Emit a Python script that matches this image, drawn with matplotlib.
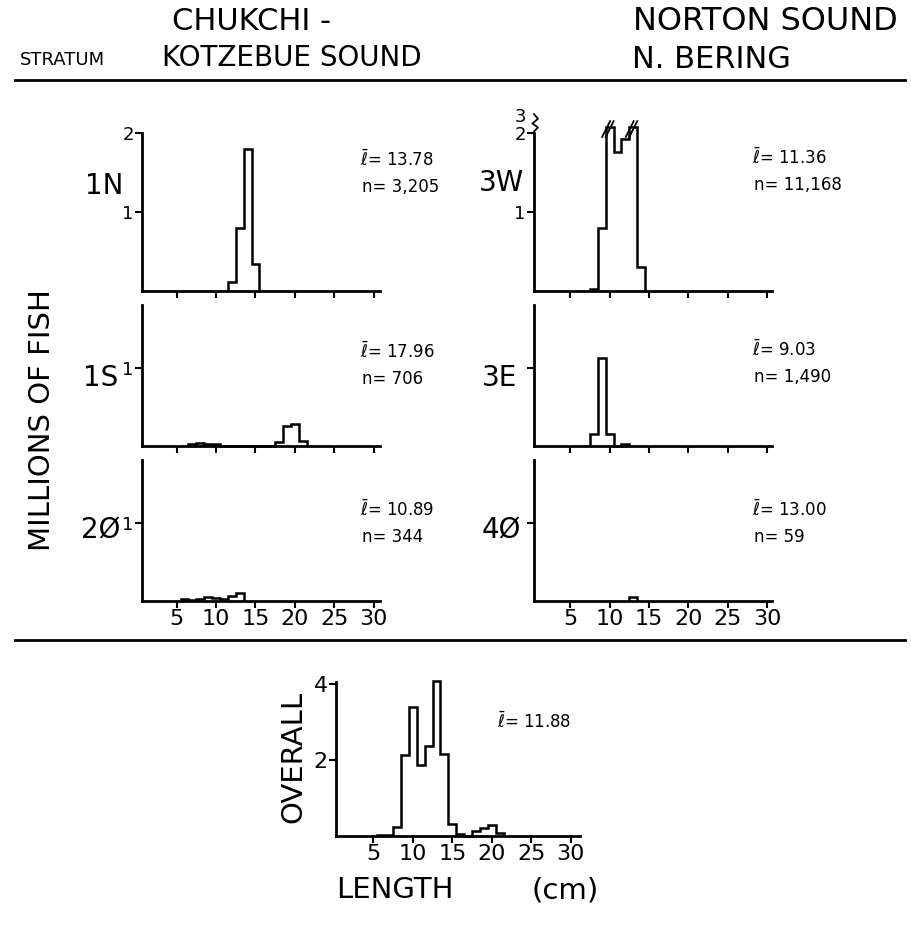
import numpy as np
import matplotlib.pyplot as plt
from matplotlib.lines import Line2D

# length bins (cm, bin centres) and abundance (millions of fish) per stratum
bins_1N = [12, 13, 14, 15]
fish_1N = [0.12, 0.80, 1.80, 0.34]

bins_1S = [7, 8, 9, 10, 11, 12, 13, 14, 15, 16, 17, 18, 19, 20, 21]
fish_1S = [0.02, 0.04, 0.03, 0.02, 0, 0, 0, 0, 0, 0, 0, 0.05, 0.25, 0.28, 0.06]

bins_20 = [6, 7, 8, 9, 10, 11, 12, 13]
fish_20 = [0.02, 0.01, 0.02, 0.05, 0.04, 0.02, 0.06, 0.10]

bins_3W = [8, 9, 10, 11, 12, 13, 14]
fish_3W = [0.03, 0.80, 3.20, 1.76, 1.92, 3.00, 0.30]

bins_3E = [8, 9, 10, 11, 12]
fish_3E = [0.15, 1.12, 0.15, 0.0, 0.02]

bins_40 = [13]
fish_40 = [0.05]

bins_all = [6, 7, 8, 9, 10, 11, 12, 13, 14, 15, 16, 17, 18, 19, 20, 21]
fish_all = [0.02, 0.03, 0.24, 2.14, 3.40, 1.86, 2.37, 4.07, 2.16, 0.32, 0.06, 0.0,
            0.12, 0.21, 0.28, 0.09]

strata = ['1N', '1S', '2Ø', '3W', '3E', '4Ø']
means = ['13.78', '17.96', '10.89', '11.36', '9.03', '13.00']
counts = ['3,205', '706', '344', '11,168', '1,490', '59']
xticks = [5, 10, 15, 20, 25, 30]

W, H = 912, 932
fig = plt.figure(figsize=(W / 100, H / 100), dpi=100)
plt.rcParams['font.family'] = 'DejaVu Sans'


def fx(px):
    return px / W


def fy(py):
    return 1 - py / H


def panel(left, top, right, bottom, xlim, ylim):
    ax = fig.add_axes([fx(left), fy(bottom), fx(right) - fx(left), (bottom - top) / H])
    ax.set_xlim(*xlim)
    ax.set_ylim(*ylim)
    for s in ['top', 'right']:
        ax.spines[s].set_visible(False)
    for s in ['left', 'bottom']:
        ax.spines[s].set_linewidth(2)
    ax.tick_params(direction='out', length=5, width=1.5, labelsize=13, pad=1)
    ax.set_xticks(xticks)
    ax.set_xticklabels([])
    ax.set_facecolor('none')
    return ax


def hist(ax, bins, vals, cap=None):
    edges = np.arange(bins[0] - 0.5, bins[-1] + 1.0, 1.0)
    v = np.array(vals, dtype=float)
    if cap is not None:
        v = np.minimum(v, cap)
    ax.stairs(v, edges, color='black', lw=1.8, baseline=0, clip_on=False)


left_x = (142, 380)
right_x = (534, 772)
rows = [(133, 291, 2.0), (305, 446, 1.8), (460, 601, 1.8)]

data_left = [(bins_1N, fish_1N), (bins_1S, fish_1S), (bins_20, fish_20)]
data_right = [(bins_3W, fish_3W), (bins_3E, fish_3E), (bins_40, fish_40)]

for i, (top, bot, ymax) in enumerate(rows):
    # left column
    ax = panel(left_x[0], top, left_x[1], bot, (0.6, 30.8), (0, ymax))
    hist(ax, *data_left[i])
    if i == 0:
        ax.set_yticks([1, 2])
        ax.set_yticklabels(['1', '2'])
    else:
        ax.set_yticks([1])
        ax.set_yticklabels(['1'])
    if i == 2:
        ax.set_xticklabels([str(t) for t in xticks], fontsize=16)

    # right column
    ax = panel(right_x[0], top, right_x[1], bot, (0.4, 30.6), (0, 2.0 if i == 0 else ymax))
    if i == 0:
        hist(ax, bins_3W, fish_3W, cap=2.08)
        ax.set_yticks([1, 2])
        ax.set_yticklabels(['1', '2'])
        # break marks on the clipped bars
        for b, v in zip(bins_3W, fish_3W):
            if v > 2.08:
                for d in (-0.25, 0.2):
                    ax.add_line(Line2D([b - 0.7 + d, b + 0.3 + d], [1.95, 2.15],
                                       color='black', lw=1.3, clip_on=False))
        ax.text(-0.6, 2.2, '3', ha='right', va='center', fontsize=13)
        ax.add_line(Line2D([0.4, 0.9, 0.2, 0.9, 0.4], [2.02, 2.07, 2.12, 2.18, 2.24],
                           color='black', lw=1.3, clip_on=False))
    else:
        hist(ax, *data_right[i])
        ax.set_yticks([1])
        ax.set_yticklabels([''])
    if i == 2:
        ax.set_xticklabels([str(t) for t in xticks], fontsize=16)

# overall panel
ax = panel(336, 682, 580, 836, (0.25, 31.2), (0, 4.05))
hist(ax, bins_all, fish_all)
ax.set_yticks([2, 4])
ax.set_yticklabels(['2', '4'], fontsize=16)
ax.set_xticklabels([str(t) for t in xticks], fontsize=16)

# stratum labels
lab_pos = [(104, 186), (101, 378), (101, 530), (502, 183), (500, 378), (501, 530)]
for s, (x, y) in zip(strata, lab_pos):
    fig.text(fx(x), fy(y), s, ha='center', va='center', fontsize=20)

# mean length and sample size
stat_pos = [(360, 160), (360, 352), (360, 510), (752, 158), (752, 350), (752, 510)]
for m, n, (x, y) in zip(means, counts, stat_pos):
    fig.text(fx(x), fy(y), r'$\bar{\ell}$' + '= ' + m, ha='left', va='center', fontsize=12)
    fig.text(fx(x + 2), fy(y + 27), 'n= ' + n, ha='left', va='center', fontsize=12)
fig.text(fx(497), fy(722), r'$\bar{\ell}$' + '= 11.88', ha='left', va='center', fontsize=12)

# headers
fig.text(fx(252), fy(22), 'CHUKCHI -', ha='center', va='center', fontsize=22)
fig.text(fx(292), fy(58), 'KOTZEBUE SOUND', ha='center', va='center', fontsize=20)
fig.text(fx(20), fy(60), 'STRATUM', ha='left', va='center', fontsize=13)
fig.text(fx(765), fy(22), 'NORTON SOUND', ha='center', va='center', fontsize=23)
fig.text(fx(711), fy(60), 'N. BERING', ha='center', va='center', fontsize=22)

fig.add_artist(Line2D([fx(15), fx(905)], [fy(80), fy(80)], color='black', lw=2))
fig.add_artist(Line2D([fx(15), fx(905)], [fy(640), fy(640)], color='black', lw=2))

fig.text(fx(42), fy(420), 'MILLIONS OF FISH', rotation=90, ha='center', va='center', fontsize=21)
fig.text(fx(293), fy(757), 'OVERALL', rotation=90, ha='center', va='center', fontsize=21)
fig.text(fx(395), fy(890), 'LENGTH', ha='center', va='center', fontsize=21)
fig.text(fx(565), fy(890), '(cm)', ha='center', va='center', fontsize=21)

fig.savefig('out.png', dpi=100, facecolor='white')
